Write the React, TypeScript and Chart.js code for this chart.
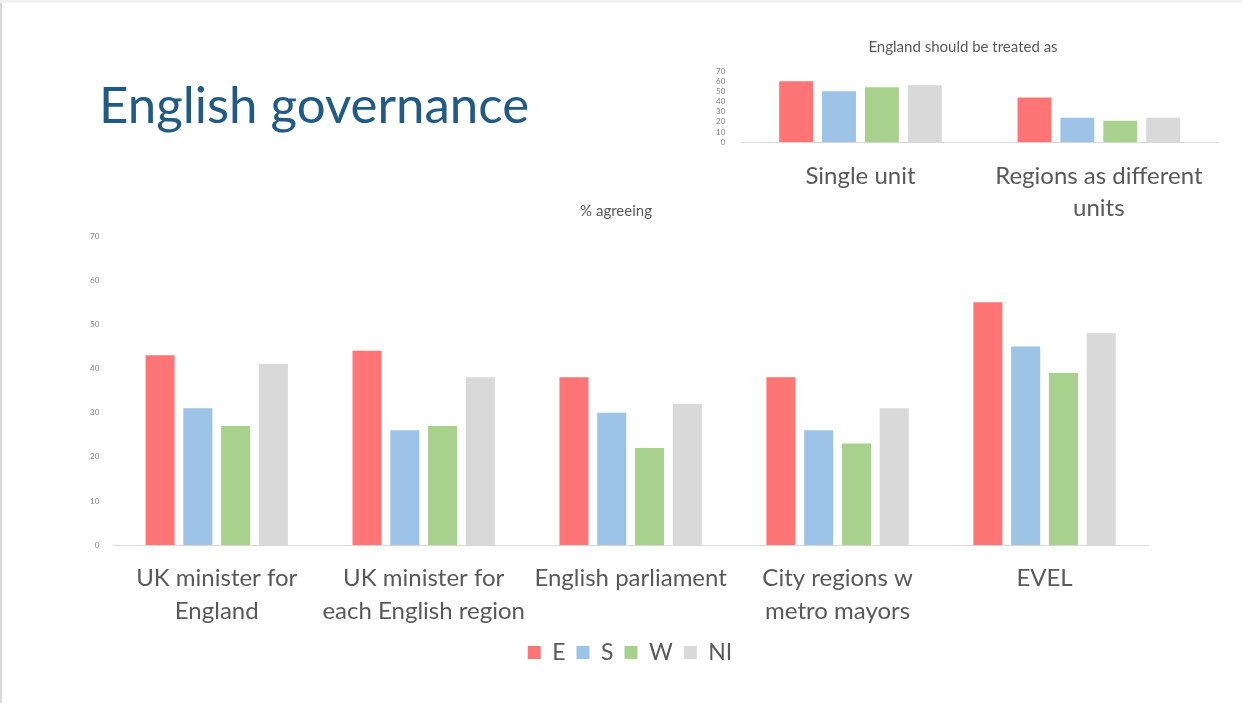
import React, { useEffect, useRef } from "react";
import { Chart, registerables } from "chart.js";

Chart.register(...registerables);

const mainCategories: string[][] = [
  ["UK minister for", "England"],
  ["UK minister for", "each English region"],
  ["English parliament"],
  ["City regions w", "metro mayors"],
  ["EVEL"],
];
const mainE = [43, 44, 38, 38, 55];
const mainS = [31, 26, 30, 26, 45];
const mainW = [27, 27, 22, 23, 39];
const mainNI = [41, 38, 32, 31, 48];

const insetCategories: (string | string[])[] = ["Single unit", ["Regions as different", "units"]];
const insetE = [60, 44];
const insetS = [50, 24];
const insetW = [54, 21];
const insetNI = [56, 24];

const seriesLabels = ["E", "S", "W", "NI"];
const colors = ["#ff7575", "#9dc3e6", "#a9d18e", "#d9d9d9"];

const FONT = "Lato, 'Open Sans', sans-serif";
const TEXT = "#595959";
const AXIS = "#d9d9d9";

const legendShift = {
  id: "legendShift",
  afterLayout(chart: any) {
    if (chart.legend) {
      chart.legend.left += 14;
      chart.legend.right += 14;
    }
  },
};

function MainChart() {
  const ref = useRef<HTMLCanvasElement | null>(null);
  useEffect(() => {
    if (!ref.current) return;
    const data = [mainE, mainS, mainW, mainNI];
    const chart = new Chart(ref.current, {
      type: "bar",
      data: {
        labels: mainCategories,
        datasets: seriesLabels.map((l, i) => ({
          label: l,
          data: data[i],
          backgroundColor: colors[i],
          categoryPercentage: 0.73,
          barPercentage: 0.77,
        })),
      },
      plugins: [legendShift],
      options: {
        animation: false,
        responsive: false,
        maintainAspectRatio: false,
        layout: { padding: { left: 24, right: 22, top: 0, bottom: 0 } },
        plugins: {
          title: {
            display: true,
            text: "% agreeing",
            color: TEXT,
            font: { family: FONT, size: 15, weight: "normal" },
            padding: { top: 7, bottom: 16 },
          },
          legend: {
            position: "bottom",
            labels: {
              boxWidth: 13,
              boxHeight: 13,
              padding: 11,
              color: TEXT,
              font: { family: FONT, size: 23 },
            },
          },
          tooltip: { enabled: false },
        },
        scales: {
          x: {
            grid: { display: false },
            border: { color: AXIS, width: 1 },
            ticks: {
              color: TEXT,
              font: { family: FONT, size: 24, lineHeight: 1.35 },
              maxRotation: 0,
              autoSkip: false,
              padding: 9,
            },
            afterFit: (scale: any) => {
              scale.height -= 6;
            },
          },
          y: {
            min: 0,
            max: 70,
            grid: { display: false },
            border: { display: false },
            ticks: {
              stepSize: 10,
              color: "#7f7f7f",
              font: { family: FONT, size: 8 },
              padding: 6,
            },
          },
        },
      },
    });
    return () => chart.destroy();
  }, []);
  return (
    <canvas
      ref={ref}
      width={1110}
      height={479}
      style={{ position: "absolute", left: 60, top: 195, width: 1110, height: 479 }}
    />
  );
}

function InsetChart() {
  const ref = useRef<HTMLCanvasElement | null>(null);
  useEffect(() => {
    if (!ref.current) return;
    const data = [insetE, insetS, insetW, insetNI];
    const chart = new Chart(ref.current, {
      type: "bar",
      data: {
        labels: insetCategories,
        datasets: seriesLabels.map((l, i) => ({
          label: l,
          data: data[i],
          backgroundColor: colors[i],
          categoryPercentage: 0.72,
          barPercentage: 0.79,
        })),
      },
      options: {
        animation: false,
        responsive: false,
        maintainAspectRatio: false,
        layout: { padding: { left: 18, right: 17, top: 0, bottom: 0 } },
        plugins: {
          title: {
            display: true,
            text: "England should be treated as",
            color: TEXT,
            font: { family: FONT, size: 15, weight: "normal" },
            padding: { top: 4, bottom: 15 },
          },
          legend: { display: false },
          tooltip: { enabled: false },
        },
        scales: {
          x: {
            grid: { display: false },
            border: { color: AXIS, width: 1 },
            ticks: {
              color: TEXT,
              font: { family: FONT, size: 24, lineHeight: 1.33 },
              maxRotation: 0,
              autoSkip: false,
              padding: 10,
            },
          },
          y: {
            min: 0,
            max: 70,
            grid: { display: false },
            border: { display: false },
            ticks: {
              stepSize: 10,
              color: "#7f7f7f",
              font: { family: FONT, size: 8, lineHeight: 1 },
              padding: 8,
              autoSkip: false,
            },
          },
        },
      },
    });
    return () => chart.destroy();
  }, []);
  return (
    <canvas
      ref={ref}
      width={545}
      height={200}
      style={{ position: "absolute", left: 690, top: 34, width: 545, height: 200 }}
    />
  );
}

export default function App() {
  return (
    <div
      style={{
        position: "fixed",
        left: 0,
        top: 0,
        width: 1242,
        height: 703,
        background: "#ffffff",
        overflow: "hidden",
      }}
    >
      <div style={{ position: "absolute", left: 0, top: 0, width: 1242, height: 3, background: "#f2f2f2" }} />
      <div style={{ position: "absolute", left: 0, top: 3, width: 2, height: 700, background: "#d9d9d9" }} />
      <div
        style={{
          position: "absolute",
          left: 99,
          top: 74,
          fontFamily: FONT,
          fontSize: 51,
          color: "#215a84",
          lineHeight: "60px",
          whiteSpace: "nowrap",
        }}
      >
        English governance
      </div>
      <InsetChart />
      <MainChart />
    </div>
  );
}
